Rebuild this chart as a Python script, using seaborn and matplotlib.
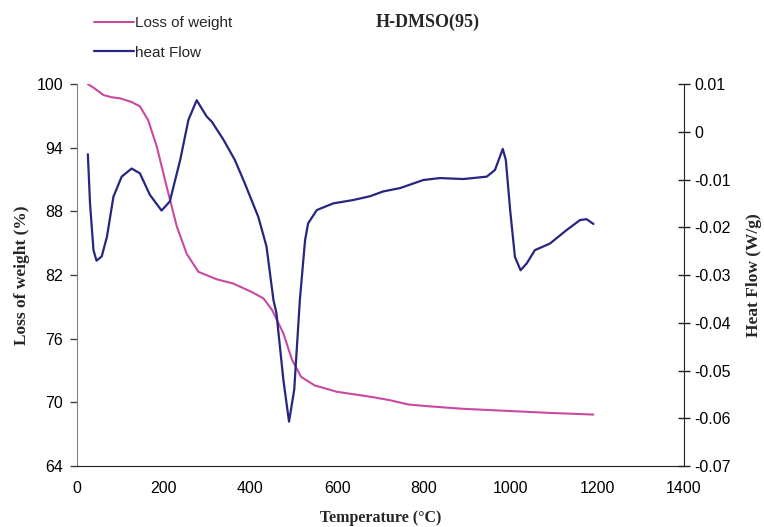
import numpy as np
import pandas as pd
import matplotlib
matplotlib.use('Agg')
import matplotlib.pyplot as plt
import seaborn as sns

# values
temp_w = [25, 40, 61, 80, 99, 126, 145, 164, 184, 207, 230, 253, 280, 322, 360, 403, 430,
          450, 476, 496, 517, 548, 599, 681, 722, 764, 805, 887, 990, 1093, 1191]
weight = [100, 99.6, 98.96, 98.75, 98.65, 98.3, 97.9, 96.6, 94.1, 90.3, 86.6, 84.0, 82.3,
          81.6, 81.2, 80.4, 79.8, 78.7, 76.5, 74.0, 72.4, 71.6, 71.0, 70.5, 70.2, 69.8,
          69.65, 69.4, 69.2, 69.0, 68.85]

temp_h = [25, 30, 38, 45, 57, 69, 84, 103, 126, 145, 168, 195, 214, 238, 257, 276, 299,
          311, 338, 364, 387, 418, 437, 453, 460, 476, 489, 501, 514, 526, 533, 553, 591,
          637, 676, 706, 745, 799, 837, 891, 945, 964, 982, 989, 999, 1010, 1023, 1037,
          1056, 1091, 1129, 1160, 1175, 1191]
heat = [-0.0047, -0.015, -0.0248, -0.027, -0.0261, -0.022, -0.0136, -0.0094, -0.0077,
        -0.0087, -0.0132, -0.0165, -0.0146, -0.0059, 0.0025, 0.0066, 0.0032, 0.0021,
        -0.0017, -0.0059, -0.0108, -0.0178, -0.024, -0.0352, -0.038, -0.052, -0.0607,
        -0.054, -0.0352, -0.0227, -0.0192, -0.0164, -0.015, -0.0143, -0.0135, -0.0125,
        -0.0118, -0.0101, -0.0097, -0.0099, -0.0094, -0.008, -0.0036, -0.0059, -0.0164,
        -0.0262, -0.029, -0.0276, -0.0248, -0.0234, -0.0206, -0.0185, -0.0183, -0.0193]

x_ticks = [0, 200, 400, 600, 800, 1000, 1200, 1400]
left_ticks = [64, 70, 76, 82, 88, 94, 100]
right_ticks = [-0.07, -0.06, -0.05, -0.04, -0.03, -0.02, -0.01, 0, 0.01]
right_labels = ['-0.07', '-0.06', '-0.05', '-0.04', '-0.03', '-0.02', '-0.01', '0', '0.01']

pink = '#C8499F'
navy = '#262680'

sns.set_style('white')
plt.rcParams['font.family'] = ['Liberation Sans', 'DejaVu Sans']

df_w = pd.DataFrame({'T': temp_w, 'W': weight})
df_h = pd.DataFrame({'T': temp_h, 'H': heat})

fig = plt.figure(figsize=(7.64, 5.27), dpi=100)
ax = fig.add_axes([0.1008, 0.1157, 0.7945, 0.7249])
ax2 = ax.twinx()

sns.lineplot(data=df_w, x='T', y='W', ax=ax, color=pink, lw=1.5, sort=False,
             label='Loss of weight', legend=False, solid_joinstyle='round')
sns.lineplot(data=df_h, x='T', y='H', ax=ax2, color=navy, lw=1.6, sort=False,
             label='heat Flow', legend=False, solid_joinstyle='round')

ax.set_xlim(0, 1400)
ax.set_ylim(64, 100)
ax2.set_ylim(-0.07, 0.01)
ax.set_xticks(x_ticks)
ax.set_yticks(left_ticks)
ax2.set_yticks(right_ticks)
ax2.set_yticklabels(right_labels)

for a in (ax, ax2):
    a.spines['top'].set_visible(False)
ax2.spines['left'].set_visible(False)
ax2.spines['bottom'].set_visible(False)
ax.spines['right'].set_visible(False)
ax.spines['left'].set_color('#808080')
ax.spines['bottom'].set_color('#202020')
ax2.spines['right'].set_color('#202020')

ax.tick_params(axis='x', direction='out', length=5, width=1, colors='#202020',
               labelsize=11.5, labelcolor='black', pad=6)
ax.tick_params(axis='y', direction='out', length=5, width=1, colors='#404040',
               labelsize=11.5, labelcolor='black', pad=5)
ax2.tick_params(axis='y', direction='inout', length=9, width=1, colors='#202020',
                labelsize=11.5, labelcolor='black', pad=3)

serif = ['Liberation Serif', 'DejaVu Serif']
ax.set_xlabel('Temperature (°C)', family=serif, fontweight='bold', fontsize=11.5, labelpad=10)
ax.set_ylabel('Loss of weight (%)', family=serif, fontweight='bold', fontsize=12.5, labelpad=5)
ax2.set_ylabel('Heat Flow (W/g)', family=serif, fontweight='bold', fontsize=12.5, labelpad=11)

fig.text(0.56, 0.957, 'H-DMSO(95)', family=serif, fontweight='bold', fontsize=13,
         ha='center', va='center')

h1, l1 = ax.get_legend_handles_labels()
h2, l2 = ax2.get_legend_handles_labels()
fig.legend(h1 + h2, l1 + l2, loc='upper left', bbox_to_anchor=(0.105, 0.995),
           frameon=False, fontsize=11, handlelength=2.6, handletextpad=0.1,
           labelspacing=1.0)

fig.savefig('out.png', dpi=100)
